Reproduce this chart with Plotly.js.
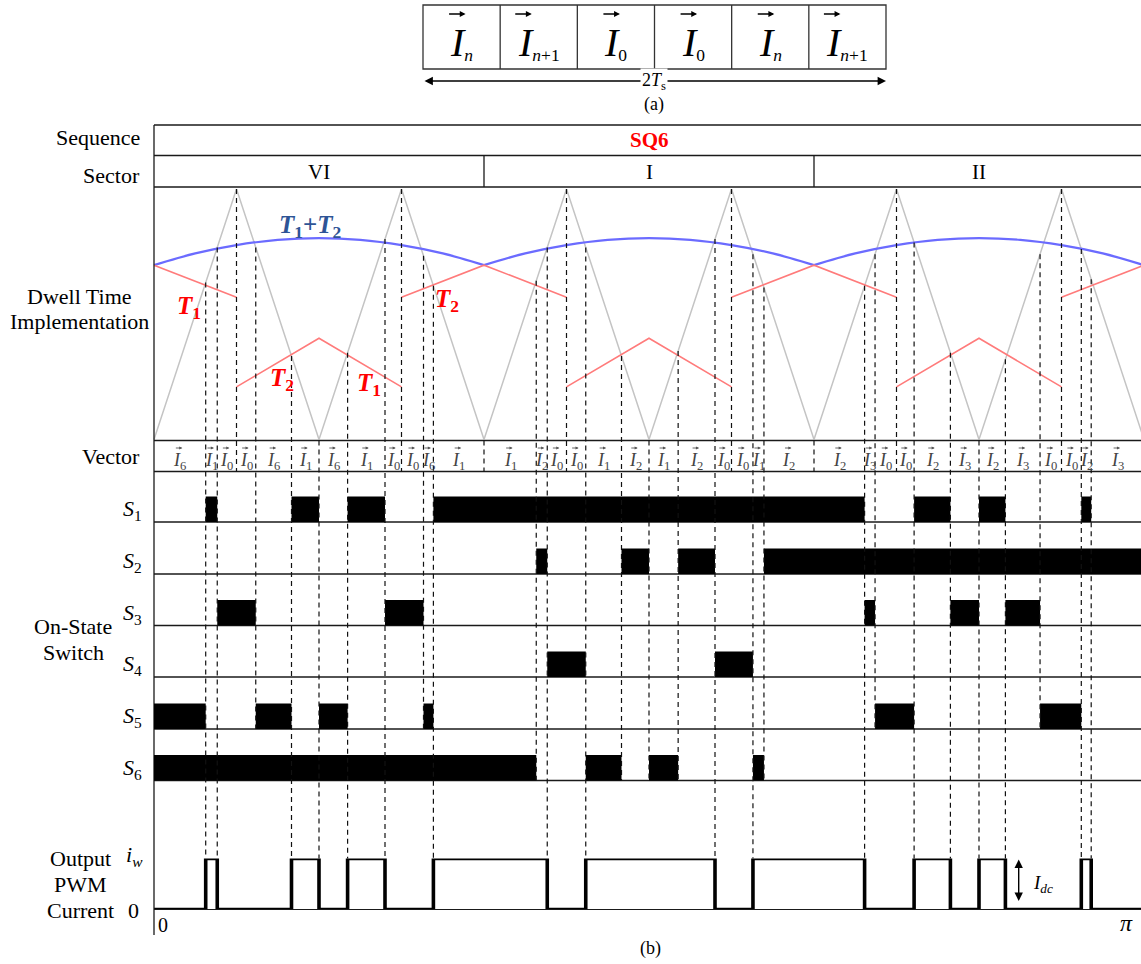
<!DOCTYPE html>
<html><head><meta charset="utf-8">
<script src="https://cdn.plot.ly/plotly-3.0.1.min.js"></script>
<style>html,body{margin:0;padding:0;background:#fff}#chart{width:1141px;height:964px}</style>
</head><body><div id="chart"></div>
<script>
// ================= DATA =================
const sequenceCells = ['<i>n</i>', '<i>n</i>+1', '0', '0', '<i>n</i>', '<i>n</i>+1'];
const sequenceName = 'SQ6';
const sectorNames = ['VI', 'I', 'II'];
const sectorEdges = [0, 60, 120, 180];               // electrical angle, degrees (0 .. π)

// vector boundaries (deg) and the vector active in each interval
const vectorBounds = [0, 9.4, 11.5, 15, 18.5, 25, 30, 35.2, 42, 45, 49, 50.8,
                      60, 69.5, 71.5, 75, 78.5, 85, 90, 95.3, 102, 105, 108.9, 110.9,
                      120, 129.2, 131.1, 135, 138.2, 144.8, 150, 154.8, 161.1, 165, 168.6, 170.4, 180];
const vectorLabels = ['6','1','0','0','6','1','6','1','0','0','6','1',
                      '1','2','0','0','1','2','1','2','0','0','1','2',
                      '2','3','0','0','2','3','2','3','0','0','2','3'];

// triangular carrier (normalised 0..1)
const carrierX = [0, 15, 30, 45, 60, 75, 90, 105, 120, 135, 150, 165, 180];
const carrierY = [0, 1, 0, 1, 0, 1, 0, 1, 0, 1, 0, 1, 0];

// T1+T2 envelope (normalised)
const sumX = [0, 7.5, 15, 22.5, 30, 37.5, 45, 52.5, 60, null,
              60, 67.5, 75, 82.5, 90, 97.5, 105, 112.5, 120, null,
              120, 127.5, 135, 142.5, 150, 157.5, 165, 172.5, 180];
const sumY = [0.696, 0.743, 0.776, 0.797, 0.804, 0.797, 0.776, 0.743, 0.696, null,
              0.696, 0.743, 0.776, 0.797, 0.804, 0.797, 0.776, 0.743, 0.696, null,
              0.696, 0.743, 0.776, 0.797, 0.804, 0.797, 0.776, 0.743, 0.696];

// T1 / T2 dwell-time references (normalised)
const dwellX = [0, 15, null, 15, 30, 45, null, 45, 60, 75, null, 75, 90, 105, null,
                105, 120, 135, null, 135, 150, 165, null, 165, 180];
const dwellY = [0.696, 0.568, null, 0.21, 0.404, 0.21, null, 0.568, 0.696, 0.568, null, 0.21, 0.404, 0.21, null,
                0.568, 0.696, 0.568, null, 0.21, 0.404, 0.21, null, 0.568, 0.696];

// on-state intervals of each switch (deg)
const S1 = [[9.4, 11.5], [25, 30], [35.2, 42], [50.8, 129.2], [138.2, 144.8], [150, 154.8], [168.6, 170.4]];
const S2 = [[69.5, 71.5], [85, 90], [95.3, 102], [110.9, 180]];
const S3 = [[11.5, 18.5], [42, 49], [129.2, 131.1], [144.8, 150], [154.8, 161.1]];
const S4 = [[71.5, 78.5], [102, 108.9]];
const S5 = [[0, 9.4], [18.5, 25], [30, 35.2], [49, 50.8], [131.1, 138.2], [161.1, 168.6]];
const S6 = [[0, 69.5], [78.5, 85], [90, 95.3], [108.9, 110.9]];
const switchNames = ['1', '2', '3', '4', '5', '6'];

// output PWM current i_w: intervals at level I_dc (deg)
const outputHigh = [[9.4, 11.5], [25, 30], [35.2, 42], [50.8, 71.5], [78.5, 102], [108.9, 129.2],
                    [138.2, 144.8], [150, 154.8], [168.6, 170.4]];

// ================= LAYOUT CONSTANTS =================
const W = 1141, H = 964;
const FONT = 'Liberation Serif, Times New Roman, Times, serif';
const X0PX = 154, PXDEG = 5.5;
const xRange = [-X0PX / PXDEG, (W - X0PX) / PXDEG];
const px = p => p / W;           // x pixel -> paper
const TOP = 125, SEQ_BOT = 155.5, SEC_BOT = 187;
const DW_TOP = 189, DW_BOT = 439.5, VEC_TOP = 440.5, VEC_BOT = 471.5;
const S_BASE = [522, 574, 625.5, 677, 729, 780.5];
const BAR_H = 25.5;
const OUT_ZERO = 909.5, OUT_HIGH = 858.5, AXIS_BOT = 935;
const LINEC = '#1a1a1a';
const LABEL_SIZE = 22;
const switches = [S1, S2, S3, S4, S5, S6];

const shapes = [];
const annotations = [];
function hline(y, x0, x1, w, c) { shapes.push({type: 'line', xref: 'x', yref: 'y', x0: x0, x1: x1, y0: y, y1: y, line: {color: c || LINEC, width: w || 1.3}}); }
function vline(x, y0, y1, w, c, dash) { shapes.push({type: 'line', xref: 'x', yref: 'y', x0: x, x1: x, y0: y0, y1: y1, line: {color: c || LINEC, width: w || 1.3, dash: dash || 'solid'}}); }
function ann(o) {
  const f = Object.assign({family: FONT, size: LABEL_SIZE, color: '#000'}, o.font || {});
  annotations.push(Object.assign({showarrow: false, xref: 'paper', yref: 'y', xanchor: 'center', yanchor: 'middle'}, o, {font: f}));
}
// small vector arrow drawn over a letter (arrow mark, not text)
function vecArrow(x, xref, y, xshift, len, w, size, color) {
  annotations.push({x: x, y: y, xref: xref, yref: 'y', xshift: xshift, ax: -len, ay: 0, axref: 'pixel', ayref: 'pixel',
    showarrow: true, arrowhead: 2, arrowsize: size, arrowwidth: w, arrowcolor: color, standoff: 0, startstandoff: 0, text: ''});
}

// ---------- frame ----------
hline(TOP, 0, 200); hline(SEQ_BOT, 0, 200); hline(SEC_BOT, 0, 200);
hline(VEC_TOP, 0, 200); hline(VEC_BOT, 0, 200);
S_BASE.forEach(b => hline(b, 0, 200));
hline(OUT_ZERO, 0, 200, 1.2);
vline(0, TOP, AXIS_BOT);
sectorEdges.slice(1, -1).forEach(e => vline(e, SEQ_BOT, SEC_BOT));

// ---------- switch bars ----------
switches.forEach((iv, k) => {
  iv.forEach(([a, b]) => shapes.push({type: 'rect', xref: 'x', yref: 'y', x0: a, x1: b,
    y0: S_BASE[k] - BAR_H, y1: S_BASE[k], fillcolor: '#000', line: {width: 0}}));
});

// ---------- dashed switching instants ----------
function carrierAt(t) {
  for (let i = 0; i < carrierX.length - 1; i++) {
    if (t >= carrierX[i] && t <= carrierX[i + 1]) {
      const f = (t - carrierX[i]) / (carrierX[i + 1] - carrierX[i]);
      return carrierY[i] + f * (carrierY[i + 1] - carrierY[i]);
    }
  }
  return 0;
}
const hasEdge = (iv, t) => iv.some(([a, b]) => Math.abs(a - t) < 0.01 || Math.abs(b - t) < 0.01);
vectorBounds.slice(1, -1).forEach(t => {
  const c = carrierAt(t);
  const top = c < 0.01 ? VEC_TOP : DW_BOT - (DW_BOT - DW_TOP) * c;
  let bot = VEC_BOT;
  switches.forEach((iv, k) => { if (hasEdge(iv, t)) bot = S_BASE[k]; });
  if (hasEdge(outputHigh, t)) bot = OUT_HIGH;
  vline(t, top, bot, 1.2, '#111', '5px,4px');
});

// ---------- top sequence box (a) ----------
const BOX_L = 423, BOX_R = 886, BOX_T = 5, BOX_B = 69;
const cellW = (BOX_R - BOX_L) / sequenceCells.length;
shapes.push({type: 'rect', xref: 'paper', yref: 'y', x0: px(BOX_L), x1: px(BOX_R), y0: BOX_T, y1: BOX_B, line: {color: '#333', width: 1.3}});
sequenceCells.forEach((s, i) => {
  if (i > 0) shapes.push({type: 'line', xref: 'paper', yref: 'y', x0: px(BOX_L + i * cellW), x1: px(BOX_L + i * cellW), y0: BOX_T, y1: BOX_B, line: {color: '#333', width: 1.3}});
  const cx = BOX_L + (i + 0.5) * cellW;
  ann({x: px(cx), y: 42, text: '<i>I</i><span style="font-size:25px"><sub>' + s + '</sub></span>', font: {size: 40}});
  const wide = s.indexOf('+') >= 0;
  vecArrow(px(cx), 'paper', 14, (wide ? -16 : -5) + 9, 18, 1.3, 0.9, '#000');
});
annotations.push({x: px(BOX_R), y: 81, xref: 'paper', yref: 'y', ax: -(BOX_R - BOX_L), ay: 0, axref: 'pixel', ayref: 'pixel',
  showarrow: true, arrowhead: 2, startarrowhead: 2, arrowside: 'end+start', arrowsize: 1.2, arrowwidth: 1.4, arrowcolor: '#000', text: ''});
ann({x: px(654), y: 81, text: '2<i>T</i><sub>s</sub>', bgcolor: '#fff', font: {size: 18}});
ann({x: px(654), y: 104, text: '(a)', font: {size: 18}});
ann({x: px(650), y: 948, text: '(b)', font: {size: 18}});

// ---------- row labels ----------
ann({x: px(142), y: 137, text: 'Sequence', xanchor: 'right'});
ann({x: px(142), y: 175, text: 'Sector', xanchor: 'right'});
ann({x: px(79), y: 296, text: 'Dwell Time'});
ann({x: px(79), y: 321, text: 'Implementation'});
ann({x: px(142), y: 456, text: 'Vector', xanchor: 'right'});
ann({x: px(73), y: 626, text: 'On-State'});
ann({x: px(73), y: 652, text: 'Switch'});
ann({x: px(80), y: 858, text: 'Output'});
ann({x: px(80), y: 884, text: 'PWM'});
ann({x: px(80), y: 910, text: 'Current'});
ann({x: px(134), y: 856, text: '<i>i</i><sub><i>w</i></sub>'});
ann({x: px(133), y: 910, text: '0'});
ann({x: px(163), y: 925, text: '0', font: {size: 20}});
ann({x: px(1126), y: 923, text: '<i>π</i>', font: {size: 24}});
switchNames.forEach((n, k) => ann({x: px(132), y: S_BASE[k] - 12, text: '<i>S</i><sub>' + n + '</sub>', font: {size: 22}}));

// sequence + sectors
annotations.push({x: 90, y: 140, xref: 'x', yref: 'y', showarrow: false, text: '<b>' + sequenceName + '</b>', font: {family: FONT, size: 21, color: '#ff0000'}});
sectorNames.forEach((s, i) => annotations.push({x: (sectorEdges[i] + sectorEdges[i + 1]) / 2, y: 172, xref: 'x', yref: 'y', showarrow: false, text: s, font: {family: FONT, size: 21, color: '#000'}}));

// vector labels
for (let i = 0; i < vectorLabels.length; i++) {
  const mid = (vectorBounds[i] + vectorBounds[i + 1]) / 2;
  annotations.push({x: mid, y: 461, xref: 'x', yref: 'y', showarrow: false, text: '<i>I</i><sub>' + vectorLabels[i] + '</sub>', font: {family: FONT, size: 18, color: '#444'}});
  vecArrow(mid, 'x', 448, 2.5, 8, 0.9, 0.7, '#555');
}

// dwell labels
ann({x: px(310), y: 226, text: '<b><i>T</i><sub>1</sub>+<i>T</i><sub>2</sub></b>', font: {size: 25, color: 'rgb(46,84,150)'}});
ann({x: px(189), y: 307, text: '<b><i>T</i><sub>1</sub></b>', font: {size: 25, color: '#ff0000'}});
ann({x: px(282), y: 379, text: '<b><i>T</i><sub>2</sub></b>', font: {size: 25, color: '#ff0000'}});
ann({x: px(369), y: 384, text: '<b><i>T</i><sub>1</sub></b>', font: {size: 25, color: '#ff0000'}});
ann({x: px(447), y: 300, text: '<b><i>T</i><sub>2</sub></b>', font: {size: 25, color: '#ff0000'}});

// I_dc arrow
annotations.push({x: (1018.7 - X0PX) / PXDEG, y: OUT_HIGH + 1, xref: 'x', yref: 'y', ax: 0, ay: 43, axref: 'pixel', ayref: 'pixel',
  showarrow: true, arrowhead: 2, startarrowhead: 2, arrowside: 'end+start', arrowsize: 1.2, arrowwidth: 1.4, arrowcolor: '#000', text: ''});
ann({x: px(1043), y: 884, text: '<i>I</i><sub><i>dc</i></sub>', font: {size: 19}});

// ---------- traces ----------
const outX = [0], outY = [0];
outputHigh.forEach(([a, b]) => { outX.push(a, a, b, b); outY.push(0, 1, 1, 0); });
outX.push(180); outY.push(0);

const traces = [
  {x: carrierX, y: carrierY, xaxis: 'x', yaxis: 'y2', mode: 'lines', line: {color: '#c4c4c4', width: 1.5}, cliponaxis: false, hoverinfo: 'skip'},
  {x: sumX, y: sumY, xaxis: 'x', yaxis: 'y2', mode: 'lines', line: {color: '#6b6bff', width: 2.2, shape: 'spline'}, connectgaps: false, cliponaxis: false, hoverinfo: 'skip'},
  {x: dwellX, y: dwellY, xaxis: 'x', yaxis: 'y2', mode: 'lines', line: {color: '#ff7b7b', width: 1.6}, connectgaps: false, cliponaxis: false, hoverinfo: 'skip'},
  {x: outX, y: outY, xaxis: 'x', yaxis: 'y3', mode: 'lines', line: {color: '#000', width: 3.6}, cliponaxis: false, hoverinfo: 'skip'}
];

const layout = {
  width: W, height: H, margin: {l: 0, r: 0, t: 0, b: 0}, showlegend: false,
  paper_bgcolor: '#fff', plot_bgcolor: '#fff',
  font: {family: FONT, size: LABEL_SIZE},
  xaxis: {range: xRange, visible: false, fixedrange: true, anchor: 'y'},
  yaxis: {range: [H, 0], visible: false, fixedrange: true, domain: [0, 1]},
  yaxis2: {range: [0, 1], domain: [1 - DW_BOT / H, 1 - DW_TOP / H], visible: false, anchor: 'x', fixedrange: true},
  yaxis3: {range: [0, 1], domain: [1 - OUT_ZERO / H, 1 - OUT_HIGH / H], visible: false, anchor: 'x', fixedrange: true},
  shapes: shapes, annotations: annotations
};
Plotly.newPlot('chart', traces, layout, {staticPlot: true, displayModeBar: false});
</script></body></html>
